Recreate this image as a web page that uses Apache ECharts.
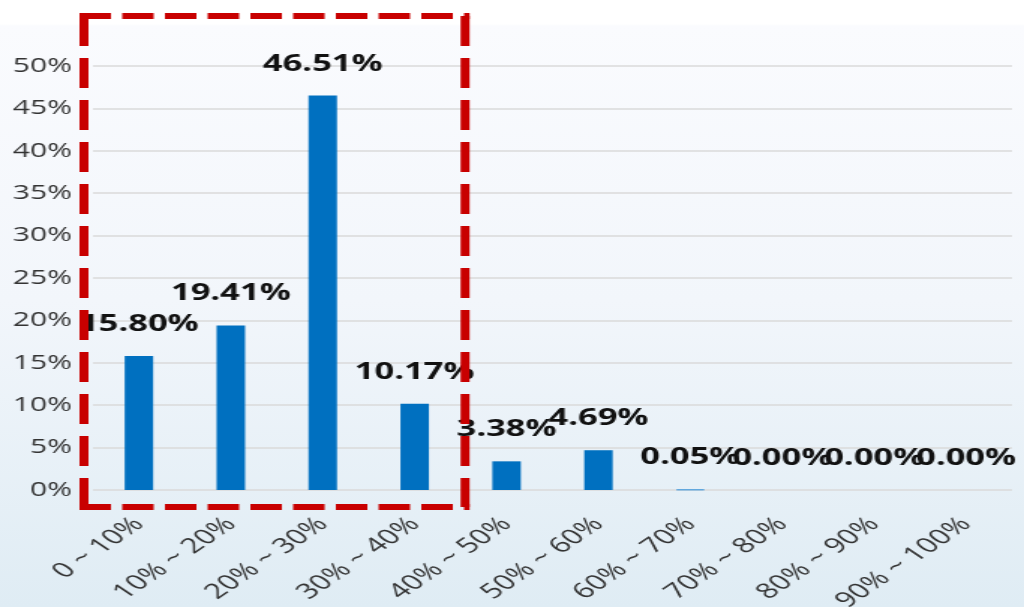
<!DOCTYPE html>
<html>
<head>
<meta charset="utf-8">
<script src="https://cdn.jsdelivr.net/npm/echarts@6/dist/echarts.min.js"></script>
<style>
  html, body { margin: 0; padding: 0; }
  body {
    width: 1024px; height: 607px; overflow: hidden;
    background: linear-gradient(to bottom, #ffffff 0px, #ffffff 24px, #fafbfe 26px, #f2f6fb 300px, #dfecf4 607px);
  }
  #main {
    width: 683px; height: 607px;
    transform: scaleX(1.4993); transform-origin: 0 0;
  }
</style>
</head>
<body>
<div id="main"></div>
<script>
// ---- data ----
const categories = ['0 ~ 10%', '10% ~ 20%', '20% ~ 30%', '30% ~ 40%', '40% ~ 50%', '50% ~ 60%', '60% ~ 70%', '70% ~ 80%', '80% ~ 90%', '90% ~ 100%'];
const values = [15.80, 19.41, 46.51, 10.17, 3.38, 4.69, 0.05, 0.00, 0.00, 0.00];
const yMin = 0, yMax = 50, yInterval = 5;
const highlightFrom = '0 ~ 10%', highlightTo = '30% ~ 40%';

const chart = echarts.init(document.getElementById('main'), null, { renderer: 'canvas' });
const FONT = '"Open Sans", "Noto Sans", sans-serif';

// tiny non-zero bars get a hairline outline so they stay visible (as in the original)
const seriesData = values.map(v => (v > 0 && v < 0.5)
  ? { value: v, itemStyle: { borderWidth: 1.5, borderColor: '#62a8de' } }
  : v);

chart.setOption({
  animation: false,
  backgroundColor: 'transparent',
  grid: { left: 62, right: 8, top: 66, bottom: 117, containLabel: false, outerBoundsMode: 'none' },
  xAxis: {
    type: 'category',
    data: categories,
    axisLine: { show: false },
    axisTick: { show: false },
    axisLabel: {
      rotate: 45, interval: 0, margin: 31,
      fontFamily: FONT, fontSize: 21, color: '#333333'
    }
  },
  yAxis: {
    type: 'value',
    min: yMin, max: yMax, interval: yInterval,
    axisLine: { show: false },
    axisTick: { show: false },
    axisLabel: {
      formatter: '{value}%', margin: 14,
      fontFamily: FONT, fontSize: 20, color: '#333333'
    },
    splitLine: { lineStyle: { color: '#dadada', width: 1.5 } }
  },
  series: [{
    type: 'bar',
    data: seriesData,
    barWidth: 19,
    itemStyle: { color: '#0070c0' },
    label: {
      show: true, position: 'top', distance: 20,
      formatter: p => p.value.toFixed(2) + '%',
      fontFamily: FONT, fontSize: 23, fontWeight: 'bold', color: '#111111'
    }
  }]
});

// ---- highlight box derived from the axes ----
const xa = chart.convertToPixel({ xAxisIndex: 0 }, highlightFrom);
const xb = chart.convertToPixel({ xAxisIndex: 0 }, highlightTo);
const band = chart.convertToPixel({ xAxisIndex: 0 }, categories[1]) - chart.convertToPixel({ xAxisIndex: 0 }, categories[0]);
const yTop = chart.convertToPixel({ yAxisIndex: 0 }, yMax);
const yZero = chart.convertToPixel({ yAxisIndex: 0 }, yMin);
const L = xa - band / 2 - 6, R = xb + band / 2 + 3;
const T = yTop - 50, B = yZero + 17;
const red = '#c80000', lw = 6;
const hStyle = { stroke: red, lineWidth: lw, lineDash: [21, 7.5] };
const vStyle = { stroke: red, lineWidth: lw, lineDash: [30, 12] };
chart.setOption({
  graphic: [
    { type: 'line', z: 100, shape: { x1: L - lw / 2, y1: T, x2: R + lw / 2, y2: T }, style: hStyle },
    { type: 'line', z: 100, shape: { x1: L - lw / 2, y1: B, x2: R + lw / 2, y2: B }, style: hStyle },
    { type: 'line', z: 100, shape: { x1: L, y1: T, x2: L, y2: B }, style: vStyle },
    { type: 'line', z: 100, shape: { x1: R, y1: T, x2: R, y2: B }, style: vStyle }
  ]
});
</script>
</body>
</html>
